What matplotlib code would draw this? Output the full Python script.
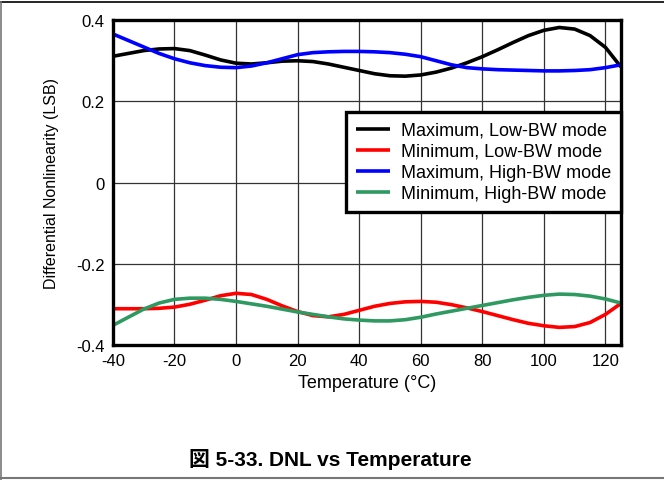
import matplotlib.pyplot as plt
from matplotlib.lines import Line2D

plt.rcParams['font.family'] = ['Liberation Sans', 'Noto Sans CJK JP', 'DejaVu Sans']
plt.rcParams['axes.unicode_minus'] = False

# temperature in degC, 5 degree steps
temp = [-40, -35, -30, -25, -20, -15, -10, -5, 0, 5, 10, 15, 20, 25, 30, 35,
        40, 45, 50, 55, 60, 65, 70, 75, 80, 85, 90, 95, 100, 105, 110, 115,
        120, 125]

max_low = [0.311, 0.318, 0.325, 0.329, 0.330, 0.325, 0.314, 0.302, 0.294, 0.292,
           0.295, 0.299, 0.300, 0.298, 0.292, 0.284, 0.276, 0.268, 0.263, 0.262,
           0.265, 0.272, 0.282, 0.295, 0.310, 0.327, 0.345, 0.362, 0.375, 0.382,
           0.378, 0.362, 0.333, 0.285]
min_low = [-0.311, -0.311, -0.311, -0.310, -0.307, -0.300, -0.290, -0.279, -0.273, -0.276,
           -0.288, -0.304, -0.318, -0.328, -0.331, -0.325, -0.315, -0.305, -0.298, -0.294,
           -0.293, -0.295, -0.301, -0.309, -0.318, -0.328, -0.338, -0.347, -0.353, -0.357,
           -0.355, -0.345, -0.325, -0.298]
max_high = [0.366, 0.350, 0.334, 0.318, 0.305, 0.295, 0.288, 0.284, 0.283, 0.287,
            0.295, 0.305, 0.315, 0.320, 0.322, 0.323, 0.323, 0.322, 0.320, 0.316,
            0.310, 0.300, 0.290, 0.283, 0.280, 0.278, 0.277, 0.276, 0.275, 0.275,
            0.276, 0.278, 0.283, 0.290]
min_high = [-0.352, -0.332, -0.312, -0.297, -0.288, -0.285, -0.285, -0.288, -0.293, -0.299,
            -0.305, -0.312, -0.319, -0.325, -0.331, -0.336, -0.339, -0.341, -0.341, -0.338,
            -0.332, -0.324, -0.317, -0.310, -0.303, -0.296, -0.289, -0.283, -0.278, -0.275,
            -0.276, -0.280, -0.287, -0.297]

labels = ['Maximum, Low-BW mode', 'Minimum, Low-BW mode',
          'Maximum, High-BW mode', 'Minimum, High-BW mode']
colors = ['black', '#ff0000', '#0000ff', '#2e9960']

fig = plt.figure(figsize=(6.64, 4.81), dpi=100)
ax = fig.add_axes([0.170, 0.281, 0.765, 0.675])

for y, c, lab in zip([max_low, min_low, max_high, min_high], colors, labels):
    ax.plot(temp, y, color=c, lw=2.6, label=lab, solid_capstyle='butt')

ax.set_xlim(-40, 125)
ax.set_ylim(-0.4, 0.4)
ax.set_xticks([-40, -20, 0, 20, 40, 60, 80, 100, 120])
ax.set_yticks([-0.4, -0.2, 0, 0.2, 0.4])
ax.set_yticklabels(['-0.4', '-0.2', '0', '0.2', '0.4'])
ax.tick_params(length=0, labelsize=12, pad=6)
ax.grid(True, color='#333333', lw=0.9)
ax.set_axisbelow(True)
for s in ax.spines.values():
    s.set_linewidth(2.4)

ax.set_xlabel('Temperature (°C)', fontsize=13, labelpad=4)
ax.set_ylabel('Differential Nonlinearity (LSB)', fontsize=11.5, labelpad=12)

leg = ax.legend(loc='upper right', bbox_to_anchor=(1.0, 0.717), fontsize=13,
                frameon=True, fancybox=False, edgecolor='black', framealpha=1,
                handlelength=1.9, handletextpad=0.6, labelspacing=0.22,
                borderpad=0.55, borderaxespad=0)
leg.get_frame().set_linewidth(2.4)

fig.text(0.497, 0.045, '図 5-33. DNL vs Temperature', ha='center', va='center',
         fontsize=15, fontweight='bold')

# page frame lines
fig.add_artist(Line2D([0, 1], [0.994, 0.994], color='black', lw=1.2))
fig.add_artist(Line2D([0.001, 0.001], [0, 0.994], color='#777777', lw=1.2))
fig.add_artist(Line2D([0, 1], [0.004, 0.004], color='#777777', lw=1.5))

fig.savefig('out.png', dpi=100)
